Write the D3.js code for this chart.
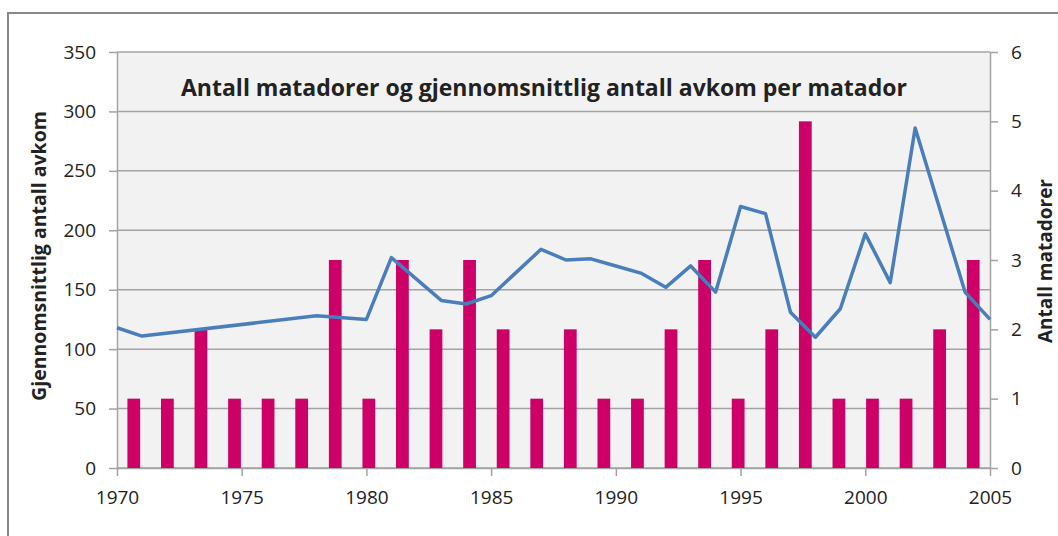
<!DOCTYPE html>
<html>
<head>
<meta charset="utf-8">
<script src="https://cdn.jsdelivr.net/npm/d3@7"></script>
<style>
  body { margin: 0; background: #fff; }
  svg text { font-family: "Open Sans", Lato, sans-serif; fill: #222; }
</style>
</head>
<body>
<svg id="chart" width="1058" height="536"></svg>
<script>
// Antall matadorer (bars, right axis) - one bar per category on a hidden axis
var barCategories = ["1", "2", "3", "4", "5", "6", "7", "8", "9", "10", "11", "12", "13",
                     "14", "15", "16", "17", "18", "19", "20", "21", "22", "23", "24", "25", "26"];
var barValues = [1, 1, 2, 1, 1, 1, 3, 1, 3, 2, 3, 2, 1, 2, 1, 1, 2, 3, 1, 2, 5, 1, 1, 1, 2, 3];

// Gjennomsnittlig antall avkom (line, left axis)
var lineYears = [1970, 1971, 1978, 1980, 1981, 1983, 1984, 1985, 1987, 1988, 1989, 1990, 1991,
                 1992, 1993, 1994, 1995, 1996, 1997, 1998, 1999, 2000, 2001, 2002, 2004, 2005];
var lineValues = [118, 111, 128, 125, 177, 141, 138, 145, 184, 175, 176, 170, 164,
                  152, 170, 148, 220, 214, 131, 110, 134, 197, 156, 286, 148, 125];

var xTicks = [1970, 1975, 1980, 1985, 1990, 1995, 2000, 2005];
var leftTicks = [0, 50, 100, 150, 200, 250, 300, 350];
var rightTicks = [0, 1, 2, 3, 4, 5, 6];

var title = "Antall matadorer og gjennomsnittlig antall avkom per matador";
var leftTitle = "Gjennomsnittlig antall avkom";
var rightTitle = "Antall matadorer";

var svg = d3.select("#chart");
var plotLeft = 117, plotRight = 990, plotTop = 52, plotBottom = 468;
var gridColor = "#a3a3a3";

// outer chart frame (runs off the picture on the right and bottom)
svg.append("rect").attr("x", 8).attr("y", 13).attr("width", 1080).attr("height", 560)
    .attr("fill", "#fff").attr("stroke", "#888").attr("stroke-width", 2);

var x = d3.scaleLinear().domain([1970, 2005]).range([plotLeft, plotRight]);
var y = d3.scaleLinear().domain([0, 350]).range([plotBottom, plotTop]);
var y2 = d3.scaleLinear().domain([0, 6]).range([plotBottom, plotTop]);
var xBand = d3.scaleBand().domain(barCategories).range([plotLeft, plotRight])
    .paddingInner(0.62).paddingOuter(0.31);

// plot background
svg.append("rect").attr("x", plotLeft).attr("y", plotTop)
    .attr("width", plotRight - plotLeft).attr("height", plotBottom - plotTop).attr("fill", "#f2f2f2");

// horizontal gridlines
svg.append("g").selectAll("line").data(leftTicks).enter().append("line")
    .attr("x1", plotLeft).attr("x2", plotRight)
    .attr("y1", function(d) { return y(d); })
    .attr("y2", function(d) { return y(d); })
    .attr("stroke", gridColor).attr("stroke-width", 1.5);

// axes
function styleAxis(g) {
    g.selectAll("path").attr("stroke", gridColor).attr("stroke-width", 1.5);
    g.selectAll("line").attr("stroke", gridColor).attr("stroke-width", 1.5);
    g.selectAll("text").attr("font-size", "19px").attr("fill", "#222");
}

svg.append("g").attr("transform", "translate(" + plotLeft + ",0)")
    .call(d3.axisLeft(y).tickValues(leftTicks).tickSize(8).tickSizeOuter(0).tickPadding(13))
    .call(styleAxis);

svg.append("g").attr("transform", "translate(" + plotRight + ",0)")
    .call(d3.axisRight(y2).tickValues(rightTicks).tickFormat(d3.format("d"))
        .tickSize(8).tickSizeOuter(0).tickPadding(13))
    .call(styleAxis);

svg.append("g").attr("transform", "translate(0," + plotBottom + ")")
    .call(d3.axisBottom(x).tickValues(xTicks).tickFormat(d3.format("d"))
        .tickSize(8).tickSizeOuter(0).tickPadding(15))
    .call(styleAxis);

// bars
svg.append("g").selectAll("rect").data(barValues).enter().append("rect")
    .attr("x", function(d, i) { return xBand(barCategories[i]); })
    .attr("y", function(d) { return y2(d); })
    .attr("width", xBand.bandwidth())
    .attr("height", function(d) { return plotBottom - y2(d); })
    .attr("fill", "#cc0066");

// line
var points = lineYears.map(function(yr, i) { return [yr, lineValues[i]]; });
var line = d3.line()
    .x(function(d) { return x(d[0]); })
    .y(function(d) { return y(d[1]); });
svg.append("path").datum(points).attr("d", line)
    .attr("fill", "none").attr("stroke", "#4a7ebb").attr("stroke-width", 3.5)
    .attr("stroke-linejoin", "round");

// titles
svg.append("text").attr("x", 544).attr("y", 96).attr("text-anchor", "middle")
    .attr("font-size", "23px").attr("font-weight", "bold").text(title);

svg.append("text").attr("transform", "translate(46,256) rotate(-90)")
    .attr("text-anchor", "middle").attr("font-size", "19.5px").attr("font-weight", "bold")
    .text(leftTitle);

svg.append("text").attr("transform", "translate(1052,261) rotate(-90)")
    .attr("text-anchor", "middle").attr("font-size", "19px").attr("font-weight", "bold")
    .text(rightTitle);
</script>
</body>
</html>
